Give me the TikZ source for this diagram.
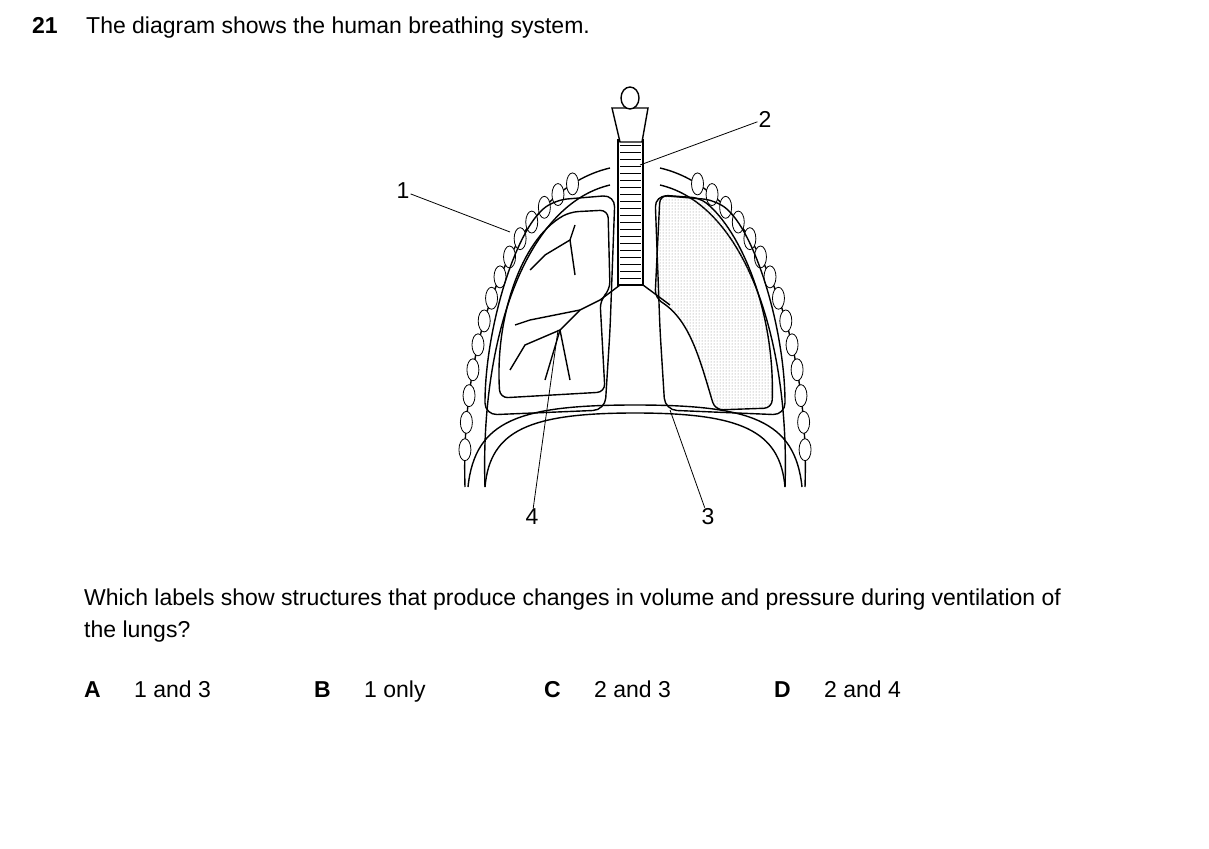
\documentclass[tikz,border=0pt]{standalone}
\usepackage{fontspec}
\setmainfont{Liberation Sans}
\usetikzlibrary{patterns}
\begin{document}
\begin{tikzpicture}[x=1pt,y=-1pt,
  txt/.style={anchor=base west,inner sep=0pt,font=\fontsize{23}{28}\selectfont},
  lab/.style={inner sep=1pt,font=\fontsize{23}{28}\selectfont},
  ln/.style={line width=0.8pt},
  thick/.style={line width=1.4pt}]
\useasboundingbox (0,0) rectangle (1209,848);
% header
\node[txt,font=\fontsize{23}{28}\selectfont\bfseries] (q) at (32,34) {21};
\node[txt] (t) at (86,34) {The diagram shows the human breathing system.};
% rib cage outer and inner arcs
\foreach \s in {1,-1}{
 \begin{scope}[xshift=635pt,xscale=\s]
  \draw[thick] (-170,487) .. controls (-175,330) and (-120,190) .. (-25,168);
  \draw[thick] (-150,487) .. controls (-155,340) and (-110,205) .. (-25,185);
  \foreach \t in {0.08,0.14,...,0.9}{
   \path (-170,487) .. controls (-175,330) and (-120,190) .. (-25,168) coordinate[pos=\t] (r);
   \draw[ln,fill=white] (r) ellipse (6 and 11);
  }
  % pleural cavity
  \draw[thick,rounded corners=12] (-20,195) -- (-25,330) -- (-30,410) -- (-150,415) .. controls (-150,330) and (-120,230) .. (-80,200) -- cycle;
 \end{scope}}
% left lung
\draw[thick,rounded corners=8] (608,210) -- (610,290) -- (600,300) -- (605,392) -- (500,398) .. controls (495,320) and (520,240) .. (570,212) -- cycle;
% right lung dotted
\draw[thick,rounded corners=8,pattern=dots,pattern color=gray] (660,195) -- (700,198) .. controls (740,230) and (775,310) .. (772,408) -- (715,410) .. controls (700,360) and (690,320) .. (655,298) -- cycle;
% bronchial tree
\draw[thick] (620,285) -- (600,300) -- (580,310) -- (560,330) -- (545,380);
\draw[thick] (580,310) -- (530,320) -- (515,325);
\draw[thick] (560,330) -- (525,345) -- (510,370);
\draw[thick] (575,275) -- (570,240) -- (575,225);
\draw[thick] (570,240) -- (545,255) -- (530,270);
\draw[thick] (560,330) -- (570,380);
\draw[thick] (643,285) -- (670,305);
% trachea
\draw[thick,fill=white] (618,140) rectangle (643,285);
\foreach \y in {145,152,...,280} \draw[ln] (620,\y) -- (641,\y);
% larynx
\draw[thick,fill=white] (612,108) -- (648,108) -- (642,142) -- (620,142) -- cycle;
\draw[thick,fill=white] (630,98) ellipse (9 and 11);
% diaphragm
\draw[thick] (468,487) .. controls (475,420) and (520,405) .. (635,405) .. controls (750,405) and (795,420) .. (802,487);
\draw[thick] (485,487) .. controls (490,430) and (530,413) .. (635,413) .. controls (740,413) and (780,430) .. (785,487);
% labels
\node[lab] (l1) at (403,191) {1};
\node[lab] (l2) at (765,119) {2};
\node[lab] (l3) at (708,517) {3};
\node[lab] (l4) at (532,517) {4};
\coordinate (p1) at (510,232); \coordinate (p2) at (640,165);
\coordinate (p3) at (670,410); \coordinate (p4) at (558,330);
\draw[ln] (l1) -- (p1); \draw[ln] (l2) -- (p2);
\draw[ln] (l3) -- (p3); \draw[ln] (l4) -- (p4);
% question
\node[txt] (w1) at (84,605) {Which labels show structures that produce changes in volume and pressure during ventilation of};
\node[txt] (w2) at (84,637) {the lungs?};
\node[txt,font=\fontsize{23}{28}\selectfont\bfseries] (A) at (84,697) {A};
\node[txt] (a) at (134,697) {1 and 3};
\node[txt,font=\fontsize{23}{28}\selectfont\bfseries] (B) at (314,697) {B};
\node[txt] (b) at (364,697) {1 only};
\node[txt,font=\fontsize{23}{28}\selectfont\bfseries] (C) at (544,697) {C};
\node[txt] (c) at (594,697) {2 and 3};
\node[txt,font=\fontsize{23}{28}\selectfont\bfseries] (D) at (774,697) {D};
\node[txt] (d) at (824,697) {2 and 4};
\end{tikzpicture}
\end{document}
